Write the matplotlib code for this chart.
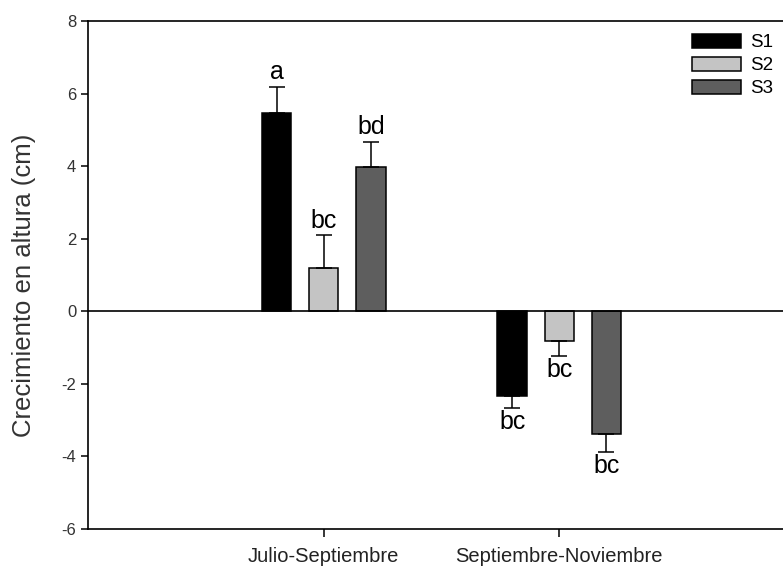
import numpy as np
import matplotlib
matplotlib.use('Agg')
import matplotlib.pyplot as plt

plt.rcParams['font.family'] = ['Liberation Sans', 'DejaVu Sans']
plt.rcParams['axes.unicode_minus'] = False

periodos = ['Julio-Septiembre', 'Septiembre-Noviembre']
series = ['S1', 'S2', 'S3']
s1 = [5.47, -2.34]
s2 = [1.20, -0.82]
s3 = [3.98, -3.38]
s1_err = [0.71, 0.33]
s2_err = [0.89, 0.42]
s3_err = [0.69, 0.49]
letras = [['a', 'bc'], ['bc', 'bc'], ['bd', 'bc']]

valores = [s1, s2, s3]
errores = [s1_err, s2_err, s3_err]
colores = ['#000000', '#c4c4c4', '#5e5e5e']

fig = plt.figure(figsize=(7.83, 5.71), dpi=100)
ax = fig.add_axes([88/783, 42/571, 707/783, 508/571])

x = np.arange(1, len(periodos) + 1)
ancho = 0.125
desp = 0.2

for i, (v, e, c) in enumerate(zip(valores, errores, colores)):
    pos = x + (i - 1) * desp
    v = np.array(v)
    e = np.array(e)
    ax.bar(pos, v, ancho, color=c, edgecolor='black', linewidth=1.1,
           label=series[i], zorder=2)
    # barras de error de un solo lado
    lower = np.where(v < 0, e, 0)
    upper = np.where(v > 0, e, 0)
    ax.errorbar(pos, v, yerr=[lower, upper], fmt='none', ecolor='black',
                elinewidth=1.1, capsize=6, capthick=1.1, zorder=3)
    for p, val, err, txt in zip(pos, v, e, letras[i]):
        if val > 0:
            ax.text(p, val + err + 0.08, txt, ha='center', va='bottom',
                    fontsize=18)
        else:
            ax.text(p, val - err - 0.05, txt, ha='center', va='top',
                    fontsize=18)

ax.axhline(0, color='black', linewidth=1.2, zorder=4)

ax.set_xlim(0, 3)
ax.set_ylim(-6, 8)
ax.set_xticks(x)
ax.set_xticklabels(periodos, fontsize=14.5, color='#222222')
ax.set_yticks(np.arange(-6, 9, 2))
ax.tick_params(axis='y', labelsize=12, labelcolor='#333333', length=5,
               width=1.1, direction='out')
ax.tick_params(axis='x', length=6, width=1.1, direction='out', pad=7)
for s in ax.spines.values():
    s.set_linewidth(1.2)

ax.set_ylabel('Crecimiento en altura (cm)', fontsize=18.5, color='#333333')
ax.yaxis.set_label_coords(-0.073, 0.48)

ax.legend(loc='upper left', bbox_to_anchor=(692/783, 1 - 34/571),
          bbox_transform=fig.transFigure, frameon=False, fontsize=13.5,
          handlelength=2.6, handleheight=0.75, labelspacing=0.3,
          handletextpad=0.5, borderaxespad=0, borderpad=0)

fig.savefig('out.png', dpi=100)
